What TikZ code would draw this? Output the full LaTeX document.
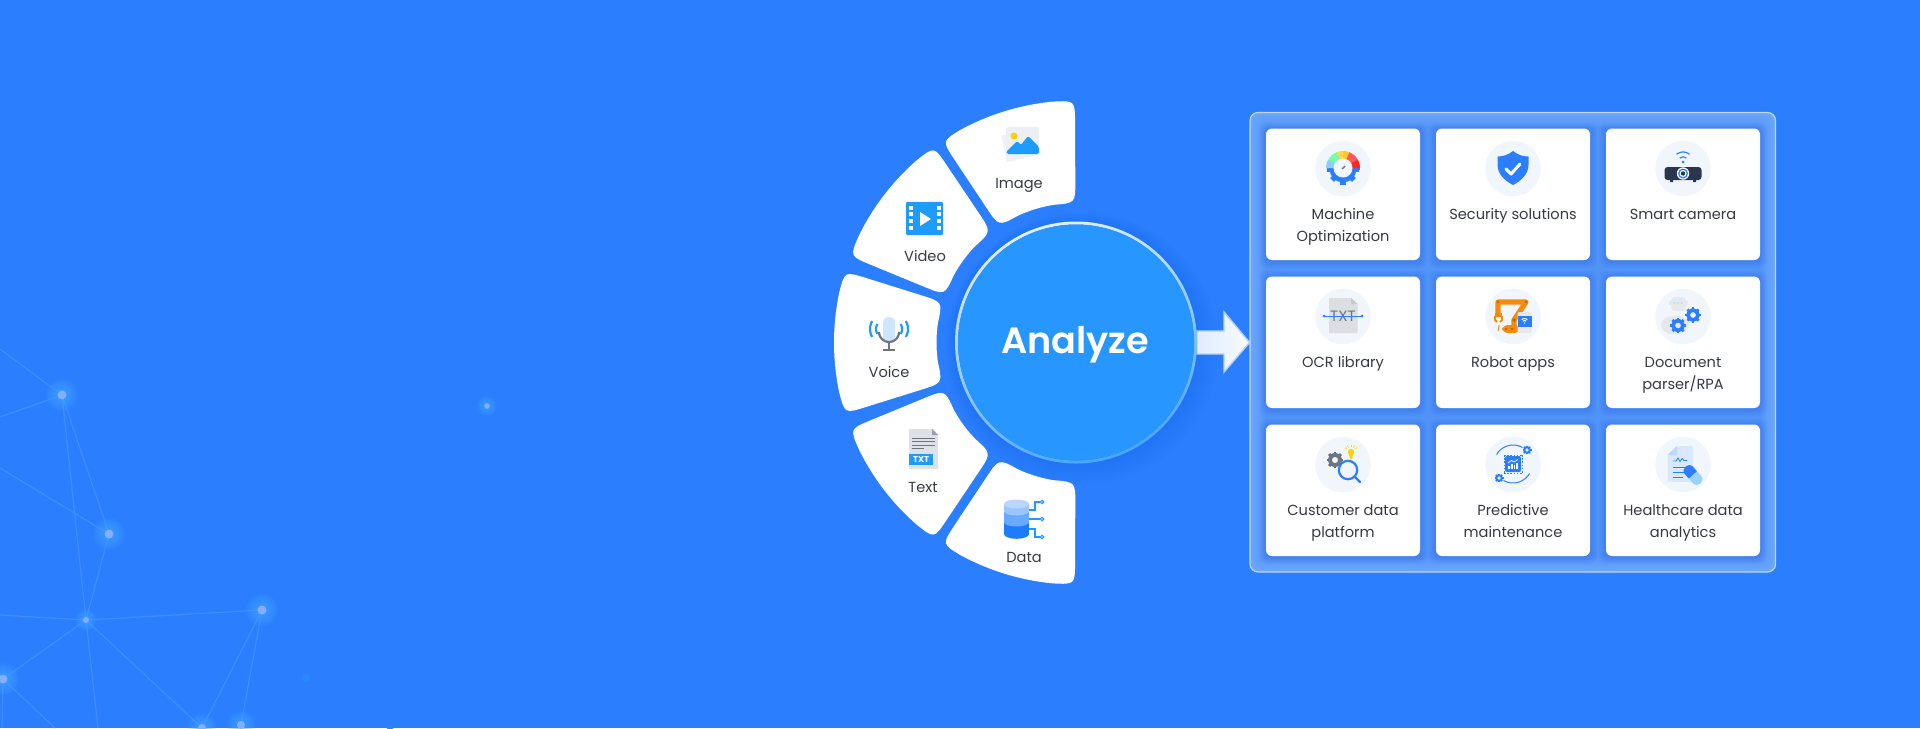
\documentclass[tikz,border=0pt]{standalone}
\usepackage{fontspec}
\setmainfont{Poppins}
\newfontfamily\anafont{Poppins SemiBold}
\usetikzlibrary{calc}
\definecolor{bg}{HTML}{2B7FFF}
\definecolor{hub}{HTML}{2896FF}
\definecolor{ink}{HTML}{363A40}
\definecolor{iconbg}{HTML}{F1F6FC}
\definecolor{pure}{HTML}{2B7FFF}
\definecolor{sky}{HTML}{1E9BFF}
\definecolor{edgeA}{HTML}{6DA7FB}
\definecolor{edgeB}{HTML}{5094F7}
\definecolor{orng}{HTML}{F58A0B}
\definecolor{grayic}{HTML}{6E7480}
\definecolor{paleg}{HTML}{E6E8EC}
\definecolor{netl}{HTML}{4A94FF}
\definecolor{halo}{HTML}{45A8FF}
\definecolor{core}{HTML}{86AEFF}
\definecolor{docg}{HTML}{DFE1EA}
\definecolor{navy}{HTML}{2A3550}
\definecolor{cylA}{HTML}{BAD6FF}
\definecolor{cylB}{HTML}{9CC4FF}
\definecolor{cylC}{HTML}{69A9FF}
\definecolor{cylD}{HTML}{1C7CFB}
\definecolor{micb}{HTML}{CDE6FB}
\def\cx{1076}\def\cy{342.5}\def\Ro{242}\def\Ri{139.5}
\newcommand\sect[4]{%
 \coordinate (oA) at ({\cx+\Ro*cos(#1)},{\cy-\Ro*sin(#1)});
 \coordinate (oB) at ({\cx+\Ro*cos(#2)},{\cy-\Ro*sin(#2)});
 \coordinate (iA) at ({\cx+\Ri*cos(#3)},{\cy-\Ri*sin(#3)});
 \coordinate (iB) at ({\cx+\Ri*cos(#4)},{\cy-\Ri*sin(#4)});
 \pgfmathsetmacro\aa{#1+5.2}\pgfmathsetmacro\ab{#2-5.2}
 \pgfmathsetmacro\ia{#3+9}\pgfmathsetmacro\ib{#4-9}
 \fill[white] plot[domain=\aa:\ab,samples=30] ({\cx+\Ro*cos(\x)},{\cy-\Ro*sin(\x)})
   .. controls (oB) .. ($(oB)!11pt!(iB)$) -- ($(iB)!11pt!(oB)$)
   .. controls (iB) .. ({\cx+\Ri*cos(\ib)},{\cy-\Ri*sin(\ib)})
   -- plot[domain=\ib:\ia,samples=30] ({\cx+\Ri*cos(\x)},{\cy-\Ri*sin(\x)})
   .. controls (iA) .. ($(iA)!11pt!(oA)$) -- ($(oA)!11pt!(iA)$)
   .. controls (oA) .. ({\cx+\Ro*cos(\aa)},{\cy-\Ro*sin(\aa)}) -- cycle;
}
\newcommand\rseg[5]{\fill[#5] plot[domain=#3:#4,samples=10] ({#2*cos(\x)},{-#2*sin(\x)}) -- plot[domain=#4:#3,samples=10] ({#1*cos(\x)},{-#1*sin(\x)}) -- cycle;}
\newcommand\geariq[4]{\begin{scope}[shift={(#1,#2)}]
 \draw[#4,line width={#3*0.27pt}] (0,0) circle ({#3*0.72});
 \foreach \t in {0,45,...,315}{\draw[#4,line width={#3*0.2pt}] ({#3*0.8*cos(\t)},{#3*0.8*sin(\t)}) -- ({#3*1.15*cos(\t)},{#3*1.15*sin(\t)});}
 \end{scope}}
\newcommand\glowdot[3]{\foreach \k in {1,...,8}{\fill[halo,opacity=0.10] (#1,#2) circle ({#3+\k*#3*0.32});}\fill[core] (#1,#2) circle (#3);}
\newcommand\card[5]{%
 \foreach \k in {1,...,7}{\fill[black!30!blue!60!bg,opacity=0.022,rounded corners=3.5pt] (#1-\k,#2-\k+1) rectangle (#1+154+\k,#2+131.5+\k+1);}
 \fill[white,rounded corners=3pt] (#1,#2) rectangle (#1+154,#2+131.5);
 \fill[iconbg] (#1+77,#2+40) circle (27.8);
 \node[cardtext] (#3) at (#1+77,#2+75.6) {\strut #4};
}
\tikzset{
 cardtext/.style={anchor=north,inner sep=0pt,align=center,text=ink,font=\fontsize{7.3pt}{11pt}\selectfont},
 seclabel/.style={anchor=base,inner sep=0pt,text=ink,font=\fontsize{7.3pt}{11pt}\selectfont},
 netline/.style={netl,line width=0.55pt,opacity=.7}
}
\begin{document}
\begin{tikzpicture}[x=0.5pt,y=-0.5pt]
\useasboundingbox (0,0) rectangle (1920,728);
\fill[bg] (0,0) rectangle (1920,728);
% network background
\coordinate (nA) at (62,395);\coordinate (nB) at (109,534);\coordinate (nC) at (86,620);
\coordinate (nD) at (262,610);\coordinate (nE) at (3,679);\coordinate (nF) at (202,728);
\coordinate (nG) at (241,725);\coordinate (nH) at (487,406);
\begin{scope}[netline]
\draw (0,349) -- (nA); \draw (0,417) -- (nA); \draw (0,468) -- (nB);
\draw (nA) -- (nB); \draw (nA) -- (nC); \draw (nB) -- (nC);
\draw (0,615) -- (nC) -- (nD); \draw (nC) -- (nE); \draw (nC) -- (98,728); \draw (nC) -- (nF);
\draw (nE) -- (55,728); \draw (nE) -- (2,728); \draw (nD) -- (nF); \draw (nD) -- (nG);
\end{scope}
\glowdot{62}{395}{4.5}
\glowdot{109}{534}{4.5}
\glowdot{86}{620}{3}
\glowdot{262}{610}{4.5}
\glowdot{3}{679}{4.5}
\glowdot{202}{728}{4}
\glowdot{241}{725}{4}
\glowdot{487}{406}{2.8}
\fill[sky!45!bg] (306,678) circle (4);
\fill[sky!30!bg] (390,728) circle (3);
% sectors
\sect{90.25}{123.6}{90.25}{123.6}
\sect{125.9}{159.1}{127.4}{160.2}
\sect{162.9}{197.1}{163.1}{196.9}
\sect{200.9}{234.1}{199.8}{232.6}
\sect{236.4}{269.75}{236.4}{269.75}
% hub shadow
\foreach \k in {1,...,10}{\fill[blue!50!black,opacity=0.004] (\cx+\k*.6,\cy+\k*.6) circle ({121+\k*1.6});}
% arrow
\fill[left color=white!85!bg,right color=white!97!bg,draw=white!65!bg,line width=.7pt] (1197,331) -- (1224,331) -- (1224,312) -- (1249.5,342.5) -- (1224,372) -- (1224,354) -- (1197,354) -- cycle;
% hub
\path[left color=white!85!hub,right color=hub!85!white,shading angle=20,even odd rule] (\cx,\cy) circle (121) (\cx,\cy) circle (118);
\fill[hub] (\cx,\cy) circle (118);
\node[inner sep=0pt,anchor=base,text=white,font=\anafont\fontsize{18.3pt}{24pt}\selectfont] (analyze) at (1075,353) {Analyze};
% panel
\fill[rounded corners=4pt,edgeA] (1250,112.5) rectangle (1775.5,572);
\foreach \k in {1,...,16}{\pgfmathsetmacro\mm{\k*100/16}
 \fill[rounded corners=4pt,edgeB!\mm!edgeA] (1250+\k,112.5+\k) rectangle (1775.5-\k,572-\k);}
\draw[rounded corners=4pt,white!55!edgeA,line width=.6pt] (1250,112.5) rectangle (1775.5,572);
% cards
\card{1266}{128.5}{c1}{Machine\\Optimization}{}
\card{1436}{128.5}{c2}{Security solutions}{}
\card{1606}{128.5}{c3}{Smart camera}{}
\card{1266}{276.5}{c4}{OCR library}{}
\card{1436}{276.5}{c5}{Robot apps}{}
\card{1606}{276.5}{c6}{Document\\parser/RPA}{}
\card{1266}{424.5}{c7}{Customer data\\platform}{}
\card{1436}{424.5}{c8}{Predictive\\maintenance}{}
\card{1606}{424.5}{c9}{Healthcare data\\analytics}{}
% sector labels
\node[seclabel] (limage) at (1019,188.5) {Image};
\node[seclabel] (lvideo) at (925,261.5) {Video};
\node[seclabel] (lvoice) at (889,377) {Voice};
\node[seclabel] (ltext) at (923,492) {Text};
\node[seclabel] (ldata) at (1024,562) {Data};
% ---- Image icon
\fill[paleg!60!white,rotate around={12:(1023,142)}] (1003,131) rectangle (1036,158);
\fill[paleg!70!white,rounded corners=1pt] (1006,127) rectangle (1039,154);
\fill[yellow!70!orange] (1014,136) circle (3.5);
\fill[sky,rounded corners=.8pt] (1006,152) -- (1017,141) -- (1021,145) -- (1028,136) -- (1039,147) -- (1039,154) -- (1007,154) -- cycle;
% ---- Video icon
\fill[sky,rounded corners=.6pt] (906,202) rectangle (943,235);
\foreach \j in {0,1,2,3}{\fill[white] (908.5,205.5+\j*6.7) rectangle (912.5,209.5+\j*6.7);\fill[white] (936.5,205.5+\j*6.7) rectangle (940.5,209.5+\j*6.7);}
\fill[white] (920,212) -- (931,219) -- (920,226) -- cycle;
% ---- Voice icon
\begin{scope}[shift={(889,330)}]
\fill[micb,rounded corners=3pt] (-6,-13) rectangle (6,13);
\draw[grayic,line width=1.1pt] plot[domain=180:360,samples=14] ({10*cos(\x)},{2-10*sin(\x)});
\draw[grayic,line width=1.1pt] (0,12) -- (0,20) (-6,20) -- (6,20);
\foreach \r/\s in {10/1.1,16/1.1}{
 \draw[sky,line width=\s pt] plot[domain=150:210,samples=8] ({\r*cos(\x)-3},{-1-\r*sin(\x)});
 \draw[sky,line width=\s pt] plot[domain=-30:30,samples=8] ({\r*cos(\x)+3},{-1-\r*sin(\x)});}
\end{scope}
% ---- Text icon
\fill[docg] (909,429) -- (932,429) -- (938,435) -- (938,469) -- (909,469) -- cycle;
\fill[grayic!70!white] (932,429) -- (938,435) -- (932,435) -- cycle;
\foreach \j/\e in {0/935,1/935,2/935,3/924}{\draw[grayic,line width=.5pt] (912,438+\j*3.5) -- (\e,438+\j*3.5);}
\fill[sky] (909,454) rectangle (933,465);
\node[inner sep=0pt,text=white,font=\fontsize{4.2pt}{5pt}\selectfont\bfseries] (ttxt) at (921,459.5) {TXT};
% ---- Data icon
\begin{scope}[shift={(1016.5,0)}]
\fill[cylD] (-12.5,522) rectangle (12.5,534); \fill[cylD] (0,534) ellipse (12.5 and 4.8);
\fill[cylC] (-12.5,512) rectangle (12.5,522); \fill[cylC] (0,522) ellipse (12.5 and 4.5);
\fill[cylB] (-12.5,504) rectangle (12.5,511); \fill[cylB] (0,511) ellipse (12.5 and 4.5);
\fill[cylA] (0,504) ellipse (12.5 and 4.5);
\end{scope}
\draw[sky,line width=.6pt] (1029,510) -- (1035,510) -- (1035,502) -- (1040,502);
\draw[sky,line width=.6pt] (1029,519) -- (1040,519);
\draw[sky,line width=.6pt] (1029,529) -- (1035,529) -- (1035,537) -- (1040,537);
\foreach \y in {502,519,537}{\draw[sky,line width=.5pt,fill=white!70!sky] (1042,\y) circle (1.8);}
% ---- c1 gauge
\begin{scope}[shift={(1343,168)}]
\geariq{0}{1}{13.5}{pure}
\fill[pure] (-16.5,0) rectangle (16.5,2);
\rseg{9}{17}{150}{180}{sky!50!white}
\rseg{9}{17}{112}{150}{green!60!cyan!55!white}
\rseg{9}{17}{90}{112}{yellow!60!orange!70!white}
\rseg{9}{17}{68}{90}{orange!50!yellow!85!white}
\rseg{9}{17}{30}{68}{red!65!white}
\rseg{9}{17}{0}{30}{red!85!white}
\fill[iconbg] (0,0) circle (9.5);
\draw[grayic,line width=.7pt] (-1,1) -- (2,-2);
\end{scope}
% ---- c2 shield
\begin{scope}[shift={(1513,168)}]
\fill[pure] (0,-17) .. controls (5,-13) and (10,-11.5) .. (15.5,-11.5) -- (15.5,-3) .. controls (15.5,6) and (8,13) .. (0,17) .. controls (-8,13) and (-15.5,6) .. (-15.5,-3) -- (-15.5,-11.5) .. controls (-10,-11.5) and (-5,-13) .. cycle;
\draw[white,line width=1.5pt,line cap=round,line join=round] (-7,1) -- (-2,6) -- (7,-4);
\end{scope}
% ---- c3 projector
\begin{scope}[shift={(1683,168)}]
\fill[navy,rounded corners=1.5pt] (-18.5,-1) rectangle (18.5,12);
\fill[white] (0,5.5) circle (6.2);\fill[pure] (0,5.5) circle (5);\fill[white] (0,5.5) circle (3.5);\fill[navy] (0,5.5) circle (2.2);
\fill[navy] (-13,12) rectangle (-10,14) (10,12) rectangle (13,14);
\fill[pure] (0,-6) circle (1.5);
\foreach \r in {5,10}{\draw[pure,line width=.6pt] plot[domain=50:130,samples=8] ({\r*cos(\x)},{-6-\r*sin(\x)});}
\end{scope}
% ---- c4 OCR
\begin{scope}[shift={(1343,316)}]
\fill[paleg!90!gray] (-14,-18) -- (8,-18) -- (14.5,-12) -- (14.5,17) -- (-14,17) -- cycle;
\fill[paleg!70!gray] (8,-18) -- (14.5,-12) -- (8,-12) -- cycle;
\node[inner sep=0pt,text=grayic,font=\fontsize{7.5pt}{8pt}\selectfont] (otxt) at (0,0) {TXT};
\draw[pure,line width=.5pt] (-19,0) -- (19,0);
\fill[pure] (-19,0) circle (1.5) (19,0) circle (1.5) (0,0) circle (1);
\end{scope}
% ---- c5 robot
\begin{scope}[shift={(1513,316)}]
\draw[orng,line width=2.6pt,line cap=round,line join=round] (-15,-3) -- (-15,-14) -- (13,-14) -- (1,4) -- (1,12);
\fill[orng,rounded corners=3pt] (-11,9) rectangle (7,17);
\fill[orng!75!black] (-7,13) circle (1.4) (-1,13) circle (1.4) (1,4) circle (1.8) (13,-14) circle (1.4) (-15,-14) circle (1.4);
\draw[orng,line width=1pt] (-17,-2) rectangle (-12,0);
\draw[orng,line width=.9pt] (-18,0) -- (-18,4) -- (-16,6) (-11,0) -- (-11,4) -- (-13,6);
\draw[orng,dashed,line width=.5pt] (-14,9) -- (-15,16);
\fill[paleg,rounded corners=1pt] (4.5,-4) rectangle (18.5,17);
\fill[pure] (5,0) rectangle (18.5,11);
\foreach \r in {2.4,4.4}{\draw[white,line width=.5pt] plot[domain=50:130,samples=6] ({11.5+\r*cos(\x)},{7-\r*sin(\x)});}
\fill[white] (11.5,7) circle (.7);
\end{scope}
% ---- c6 doc parser
\begin{scope}[shift={(1683,316)}]
\fill[paleg,rounded corners=2pt] (-12,-19) rectangle (3,-5);
\fill[paleg] (-14,-15) rectangle (5,-11);
\fill[sky!40!white] (-8.5,-13) circle (.9) (-5,-13) circle (.9) (-1.5,-13) circle (.9);
\fill[paleg] (-8,9) ellipse (14 and 9.5);
\geariq{-5}{9.5}{6.9}{pure}
\geariq{10}{-1}{6.9}{pure}
\end{scope}
% ---- c7 customer
\begin{scope}[shift={(1343,464)}]
\geariq{-8}{-4}{7.3}{grayic}
\fill[yellow!70!orange] (8,-12) circle (3.2);
\fill[yellow!70!orange] (5.8,-10.5) -- (10.2,-10.5) -- (9,-5) -- (7,-5) -- cycle;
\foreach \t in {35,60,90,120,145}{\draw[yellow!75!orange,line width=.35pt] ({8+5*cos(\t)},{-12-5*sin(\t)}) -- ({8+7.5*cos(\t)},{-12-7.5*sin(\t)});}
\fill[iconbg,opacity=.9] (5,6) circle (9);
\draw[pure,line width=1.1pt] (5,6) circle (9.2);
\draw[pure,line width=1.1pt,line cap=round] (11.5,12.5) -- (17,18);
\end{scope}
% ---- c8 predictive
\begin{scope}[shift={(1513,464)}]
\draw[pure,line width=.5pt] plot[domain=60:150,samples=14] ({19*cos(\x)},{-19*sin(\x)});
\draw[pure,line width=.5pt] plot[domain=240:330,samples=14] ({19*cos(\x)},{-19*sin(\x)});
\draw[pure,line width=.5pt,dash pattern=on .8pt off .8pt] (-9,-9) -- (9,-9) (-9,9) -- (9,9) (-9,-9) -- (-9,9) (9,-9) -- (9,9);
\fill[pure,rounded corners=1pt] (-8,-8) rectangle (8,8);
\foreach \u/\h in {-4/3,-1.3/5,1.3/4,4/6}{\fill[white] (\u-.8,5) rectangle (\u+.8,5-\h);}
\draw[white,line width=.35pt] (-5,-1) -- (-1.5,-3.5) -- (1,-2) -- (5,-4.5);
\geariq{14}{-14}{3.9}{pure}
\geariq{-14}{14}{3.9}{pure}
\end{scope}
% ---- c9 healthcare
\begin{scope}[shift={(1683,464)}]
\fill[pure!18!white,rounded corners=1pt] (-6,-18) -- (10,-18) -- (10,18) -- (-15.5,18) -- (-15.5,-9) -- cycle;
\fill[pure!30!white] (-6,-18) -- (-6,-9) -- (-15.5,-9) -- cycle;
\draw[pure,line width=.4pt] (-10,-3) -- (-7,-3) -- (-5,-6) -- (-3,-2.5) -- (-1,-5.5) -- (1,-3.5) -- (4,-3.5);
\foreach \j/\e in {3/3,8/3,13/0}{\draw[pure,line width=.5pt] (-10,\j) -- (\e,\j);}
\begin{scope}[shift={(10,11)},rotate=-48]
\fill[pure] (-6,-5.5) -- (0,-5.5) -- (0,5.5) -- (-6,5.5) .. controls (-13,5.5) and (-13,-5.5) .. cycle;
\fill[sky!45!white] (0,-5.5) -- (6,-5.5) .. controls (13,-5.5) and (13,5.5) .. (6,5.5) -- (0,5.5) -- cycle;
\end{scope}
\end{scope}
\end{tikzpicture}
\end{document}
